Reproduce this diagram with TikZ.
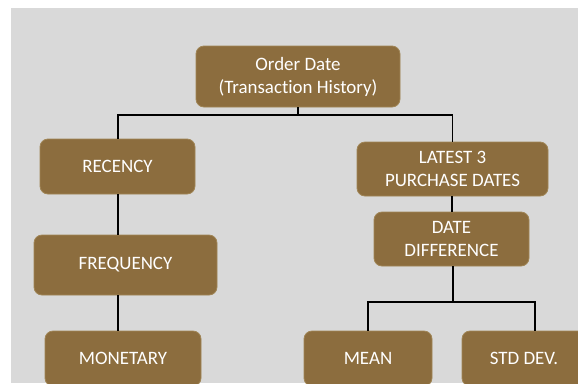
\documentclass[tikz,border=0pt]{standalone}
\usepackage{fontspec}
\setmainfont{Carlito}[Ligatures=CommonOff]
\definecolor{pagebg}{HTML}{D9D9D9}
\definecolor{boxfill}{HTML}{8C6D3E}
\definecolor{boxedge}{HTML}{A08556}
\tikzset{
  box/.style={draw=boxedge, line width=0.6pt, fill=boxfill, rounded corners=6pt,
    text=white, font=\fontsize{14.2}{17.3}\selectfont, align=center,
    inner sep=0pt},
  link/.style={draw=black, line width=1.1pt},
}
\begin{document}
\begin{tikzpicture}[x=0.75pt, y=-0.75pt]
  \useasboundingbox (0,0) rectangle (578,383);
  \clip (0,0) rectangle (578,383);
  \fill[pagebg] (11,8) rectangle (578,383);

  % boxes
  \node[box, minimum width=204*0.75pt, minimum height=61*0.75pt] (top) at (298,76.5) {Order Date\\(Transaction History)};
  \node[box, minimum width=155*0.75pt, minimum height=55*0.75pt] (rec) at (117.5,166.5) {RECENCY};
  \node[box, minimum width=183*0.75pt, minimum height=60*0.75pt] (freq) at (125.5,265) {FREQUENCY};
  \node[box, minimum width=156*0.75pt, minimum height=55*0.75pt] (mon) at (123,358.5) {MONETARY};
  \node[box, minimum width=191*0.75pt, minimum height=54*0.75pt] (lat) at (452.5,169) {LATEST 3\\PURCHASE DATES};
  \node[box, minimum width=155*0.75pt, minimum height=54*0.75pt] (diff) at (451.5,239) {DATE\\DIFFERENCE};
  \node[box, minimum width=128*0.75pt, minimum height=55*0.75pt] (mean) at (368,358.5) {MEAN};
  \node[box, minimum width=124*0.75pt, minimum height=55*0.75pt] (std) at (524,358.5) {STD DEV.};

  % junction points of the branching lines
  \coordinate (busA) at (298,115);
  \coordinate (busB) at (453,302);

  % connectors
  \draw[link] (top.south) -- (busA) -| ([xshift=0.375pt]rec.north);
  \draw[link] (busA) -| (lat.north);
  \draw[link] ([xshift=0.375pt]rec.south) -- ([xshift=0.375pt]rec.south |- freq.north);
  \draw[link] ([xshift=0.375pt]rec.south |- freq.south) -- ([xshift=0.375pt]rec.south |- mon.north);
  \draw[link] ([xshift=-0.375pt]lat.south) -- ([xshift=-0.375pt]lat.south |- diff.north);
  \draw[link] (diff.south -| busB) -- (busB);
  \draw[link] (busB) -| (mean.north);
  \draw[link] (busB) -| ([xshift=8.25pt]std.north);
\end{tikzpicture}
\end{document}
